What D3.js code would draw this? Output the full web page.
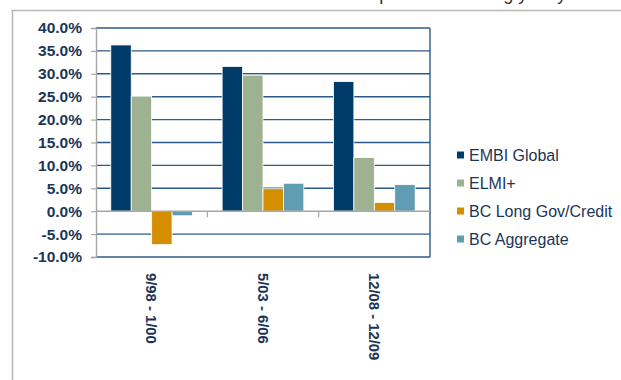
<!DOCTYPE html>
<html>
<head>
<meta charset="utf-8">
<script src="https://cdn.jsdelivr.net/npm/d3@7"></script>
<style>
  html, body { margin: 0; padding: 0; background: #fff; }
  svg { display: block; }
</style>
</head>
<body>
<svg id="chart" width="621" height="380"></svg>
<script>
const categories = ["9/98 - 1/00", "5/03 - 6/06", "12/08 - 12/09"];
const seriesNames = ["EMBI Global", "ELMI+", "BC Long Gov/Credit", "BC Aggregate"];
const embiGlobal = [36.3, 31.6, 28.3];
const elmiPlus = [25.1, 29.7, 11.7];
const bcLongGovCredit = [-7.3, 4.9, 1.9];
const bcAggregate = [-1.0, 6.1, 5.8];
const yTicks = [-10, -5, 0, 5, 10, 15, 20, 25, 30, 35, 40];
const colors = ["#003c69", "#9eb190", "#d48e00", "#5f9db3"];
const titleText = "Total returns of the three asset classes in periods of strong yearly USD weakness";

(function () {
const seriesValues = [embiGlobal, elmiPlus, bcLongGovCredit, bcAggregate];
const svg = d3.select("#chart");
const textColor = "#1b3556";
const gridColor = "#2b5a88";

// cropped title line (only its lower edge is visible in the reference)
svg.append("text").attr("x", 47).attr("y", 0)
  .attr("font-family", "Liberation Sans, Arial, sans-serif")
  .attr("font-size", 18).attr("fill", "#333").text(titleText);

// outer chart border (cropped)
svg.append("path").attr("d", "M12.5,380 V10.5 H621")
  .attr("fill", "none").attr("stroke", "#b8b8b8").attr("stroke-width", 1.6);

const pL = 96, pR = 430, pT = 28, pB = 257;
const y = d3.scaleLinear().domain([-10, 40]).range([pB, pT]);
const x0 = d3.scaleBand().domain(categories).range([pL, pR]).padding(0);
const x1 = d3.scaleBand().domain(seriesNames).range([14.8, 96.5]).padding(0);

// gridlines
svg.append("g").selectAll("line").data(yTicks.filter(t => t !== 0)).join("line")
  .attr("x1", pL).attr("x2", pR)
  .attr("y1", d => y(d)).attr("y2", d => y(d))
  .attr("stroke", gridColor).attr("stroke-width", 1.4);

// right frame
svg.append("line").attr("x1", pR).attr("x2", pR).attr("y1", pT).attr("y2", pB)
  .attr("stroke", gridColor).attr("stroke-width", 1.4);

// bars
const groups = svg.append("g").selectAll("g").data(categories).join("g")
  .attr("transform", c => `translate(${x0(c)},0)`);
groups.selectAll("rect").data((c, ci) => seriesNames.map((s, si) => ({ s, si, v: seriesValues[si][ci] })))
  .join("rect")
  .attr("x", d => x1(d.s)).attr("width", x1.bandwidth())
  .attr("y", d => y(Math.max(0, d.v)))
  .attr("height", d => Math.abs(y(d.v) - y(0)))
  .attr("fill", d => colors[d.si])
  .attr("stroke", "#fff").attr("stroke-width", 0.8);

// zero axis line with category ticks
svg.append("line").attr("x1", pL).attr("x2", pR).attr("y1", y(0)).attr("y2", y(0))
  .attr("stroke", "#a6a6a6").attr("stroke-width", 1.4);
svg.append("g").selectAll("line").data(categories.slice(1)).join("line")
  .attr("x1", c => x0(c)).attr("x2", c => x0(c))
  .attr("y1", y(0)).attr("y2", y(0) + 6)
  .attr("stroke", "#a6a6a6").attr("stroke-width", 1.2);

// y axis
const yAxis = d3.axisLeft(y).tickValues(yTicks).tickSize(5).tickPadding(9)
  .tickFormat(d => d.toFixed(1) + "%");
const ga = svg.append("g").attr("transform", `translate(${pL},0)`).call(yAxis);
ga.select(".domain").attr("stroke", "#a6a6a6").attr("stroke-width", 1.4);
ga.selectAll(".tick line").attr("stroke", "#a6a6a6").attr("stroke-width", 1.2);
ga.selectAll(".tick text")
  .attr("font-family", "Liberation Sans, Arial, sans-serif")
  .attr("font-size", 15.5).attr("font-weight", "bold").attr("fill", textColor);

// x category labels (rotated)
svg.append("g").selectAll("text").data(categories).join("text")
  .attr("transform", c => `translate(${x0(c) + x0.bandwidth() / 2},273) rotate(90)`)
  .attr("dy", "0.35em")
  .attr("font-family", "Liberation Sans, Arial, sans-serif")
  .attr("font-size", 14.8).attr("font-weight", "bold").attr("fill", textColor)
  .text(c => c);

// legend
const legend = svg.append("g").selectAll("g").data(seriesNames).join("g")
  .attr("transform", (s, i) => `translate(457,${155 + i * 28})`);
legend.append("rect").attr("x", 0).attr("y", -3.5).attr("width", 7).attr("height", 7)
  .attr("fill", (s, i) => colors[i]);
legend.append("text").attr("x", 12).attr("y", 0).attr("dy", "0.36em")
  .attr("font-family", "Liberation Sans, Arial, sans-serif")
  .attr("font-size", 16).attr("fill", textColor)
  .text(s => s);
})();
</script>
</body>
</html>
